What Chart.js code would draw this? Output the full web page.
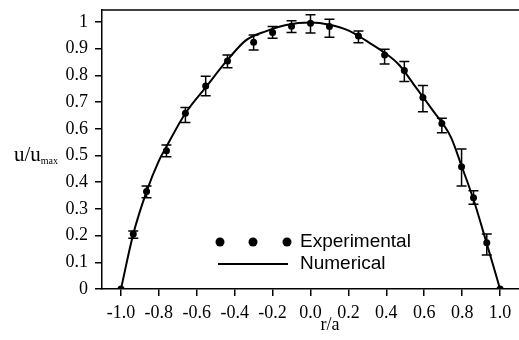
<!DOCTYPE html>
<html lang="en">
<head>
    <meta charset="UTF-8">
    <title>Velocity profile u/umax vs r/a</title>
    <style>
        body { margin: 0; background: #fff; }
        #wrap { width: 519px; height: 340px; }
    </style>
</head>
<body>
<div id="wrap"><canvas id="profileChart" width="519" height="340"></canvas></div>

<script src="https://cdn.jsdelivr.net/npm/chart.js@4.4.0/dist/chart.umd.min.js"></script>
<script>
    // Experimental points
    const expR = [-1.0, -0.935, -0.865, -0.76, -0.66, -0.553, -0.438, -0.3, -0.2, -0.1, 0.0,
        0.1, 0.253, 0.391, 0.495, 0.593, 0.693, 0.797, 0.86, 0.93, 1.0];
    const expU = [0, 0.206, 0.365, 0.518, 0.658, 0.76, 0.854, 0.924, 0.961, 0.984, 0.995,
        0.983, 0.948, 0.876, 0.818, 0.717, 0.62, 0.458, 0.342, 0.173, 0];
    // error bar ends (null = no bar)
    const expHigh = [null, 0.217, 0.386, 0.539, 0.68, 0.797, 0.876, 0.951, 0.983, 1.005, 1.027,
        1.01, 0.966, 0.898, 0.852, 0.762, 0.64, 0.524, 0.368, 0.206, null];
    const expLow = [null, 0.19, 0.342, 0.495, 0.624, 0.724, 0.829, 0.895, 0.939, 0.961, 0.959,
        0.943, 0.922, 0.843, 0.777, 0.664, 0.585, 0.386, 0.317, 0.127, null];

    // Numerical solution curve
    const numR = [-1.0, -0.935, -0.865, -0.8, -0.76, -0.66, -0.553, -0.438, -0.338, -0.233, -0.128, 0.0,
        0.1, 0.205, 0.293, 0.391, 0.468, 0.556, 0.644, 0.74, 0.8, 0.86, 0.93, 1.0];
    const numU = [0, 0.206, 0.365, 0.48, 0.533, 0.658, 0.755, 0.858, 0.933, 0.966, 0.989, 0.998,
        0.99, 0.967, 0.93, 0.885, 0.839, 0.755, 0.67, 0.57, 0.455, 0.335, 0.17, 0];

    // Tick labels
    const xTicks = [-1.0, -0.8, -0.6, -0.4, -0.2, 0.0, 0.2, 0.4, 0.6, 0.8, 1.0];
    const xTickLabels = ['-1.0', '-0.8', '-0.6', '-0.4', '-0.2', '0.0', '0.2', '0.4', '0.6', '0.8', '1.0'];
    const yTicks = [0, 0.1, 0.2, 0.3, 0.4, 0.5, 0.6, 0.7, 0.8, 0.9, 1];
    const yTickLabels = ['0', '0.1', '0.2', '0.3', '0.4', '0.5', '0.6', '0.7', '0.8', '0.9', '1'];

    const serif = '"Liberation Serif", "Times New Roman", serif';
    const sans = '"Liberation Sans", Arial, sans-serif';

    // error bars, top frame line, legend and axis titles
    const extras = {
        id: 'extras',
        afterDatasetsDraw(chart) {
            const ctx = chart.ctx;
            const xs = chart.scales.x, ys = chart.scales.y;
            ctx.save();
            ctx.strokeStyle = '#000';
            ctx.lineWidth = 1.5;
            for (let i = 0; i < expR.length; i++) {
                if (expHigh[i] === null) continue;
                const px = xs.getPixelForValue(expR[i]);
                const top = ys.getPixelForValue(expHigh[i]);
                const bot = ys.getPixelForValue(expLow[i]);
                ctx.beginPath();
                ctx.moveTo(px, top); ctx.lineTo(px, bot);
                ctx.moveTo(px - 5, top); ctx.lineTo(px + 5, top);
                ctx.moveTo(px - 5, bot); ctx.lineTo(px + 5, bot);
                ctx.stroke();
            }
            ctx.restore();
        },
        afterDraw(chart) {
            const ctx = chart.ctx;
            const a = chart.chartArea;
            ctx.save();
            // top frame
            ctx.strokeStyle = '#000';
            ctx.lineWidth = 1.5;
            ctx.beginPath();
            ctx.moveTo(a.left, a.top);
            ctx.lineTo(a.right, a.top);
            ctx.stroke();

            // legend
            ctx.fillStyle = '#000';
            [220, 253, 287].forEach(cx => {
                ctx.beginPath();
                ctx.arc(cx, 242, 4.5, 0, Math.PI * 2);
                ctx.fill();
            });
            ctx.lineWidth = 2;
            ctx.beginPath();
            ctx.moveTo(218, 264);
            ctx.lineTo(288, 264);
            ctx.stroke();
            ctx.font = '19px ' + sans;
            ctx.textBaseline = 'middle';
            ctx.textAlign = 'left';
            ctx.fillText('Experimental', 300, 242);
            ctx.fillText('Numerical', 300, 264);

            // axis titles
            ctx.textBaseline = 'alphabetic';
            ctx.font = '21px ' + serif;
            ctx.fillText('u/u', 14, 161);
            const w = ctx.measureText('u/u').width;
            ctx.font = '10px ' + serif;
            ctx.fillText('max', 14 + w, 164);
            ctx.font = '18px ' + serif;
            ctx.textAlign = 'center';
            ctx.fillText('r/a', 330, 330);
            ctx.restore();
        }
    };

    new Chart(document.getElementById('profileChart'), {
        type: 'scatter',
        data: {
            datasets: [{
                label: 'Experimental',
                data: expR.map((r, i) => ({ x: r, y: expU[i] })),
                pointRadius: 3.5,
                pointBackgroundColor: '#000',
                pointBorderColor: '#000',
                pointBorderWidth: 0,
                showLine: false
            }, {
                label: 'Numerical',
                data: numR.map((r, i) => ({ x: r, y: numU[i] })),
                showLine: true,
                pointRadius: 0,
                borderColor: '#000',
                borderWidth: 2,
                cubicInterpolationMode: 'monotone'
            }]
        },
        options: {
            responsive: false,
            animation: false,
            devicePixelRatio: 1,
            layout: { autoPadding: false, padding: { top: 10, right: 0, left: 0, bottom: 0 } },
            plugins: {
                legend: { display: false },
                tooltip: { enabled: false }
            },
            scales: {
                x: {
                    type: 'linear',
                    min: -1.1,
                    max: 1.1,
                    afterBuildTicks: s => { s.ticks = xTicks.map(v => ({ value: v })); },
                    afterFit: s => { s.height = 51; s.paddingLeft = 0; s.paddingRight = 0; },
                    border: { display: true, color: '#000', width: 1.5 },
                    grid: { drawOnChartArea: false, drawTicks: true, tickLength: 7, color: '#000', lineWidth: 1.5 },
                    ticks: {
                        padding: 6,
                        maxRotation: 0,
                        color: '#000',
                        font: { family: serif, size: 18 },
                        callback: (v, i) => xTickLabels[i]
                    }
                },
                y: {
                    type: 'linear',
                    min: 0,
                    max: 1.045,
                    afterBuildTicks: s => { s.ticks = yTicks.map(v => ({ value: v })); },
                    afterFit: s => { s.width = 102; s.paddingTop = 0; s.paddingBottom = 0; },
                    border: { display: true, color: '#000', width: 1.5 },
                    grid: { drawOnChartArea: false, drawTicks: true, tickLength: 7, color: '#000', lineWidth: 1.5 },
                    ticks: {
                        padding: 7,
                        color: '#000',
                        font: { family: serif, size: 18 },
                        callback: (v, i) => yTickLabels[i]
                    }
                }
            }
        },
        plugins: [extras]
    });
</script>
</body>
</html>
